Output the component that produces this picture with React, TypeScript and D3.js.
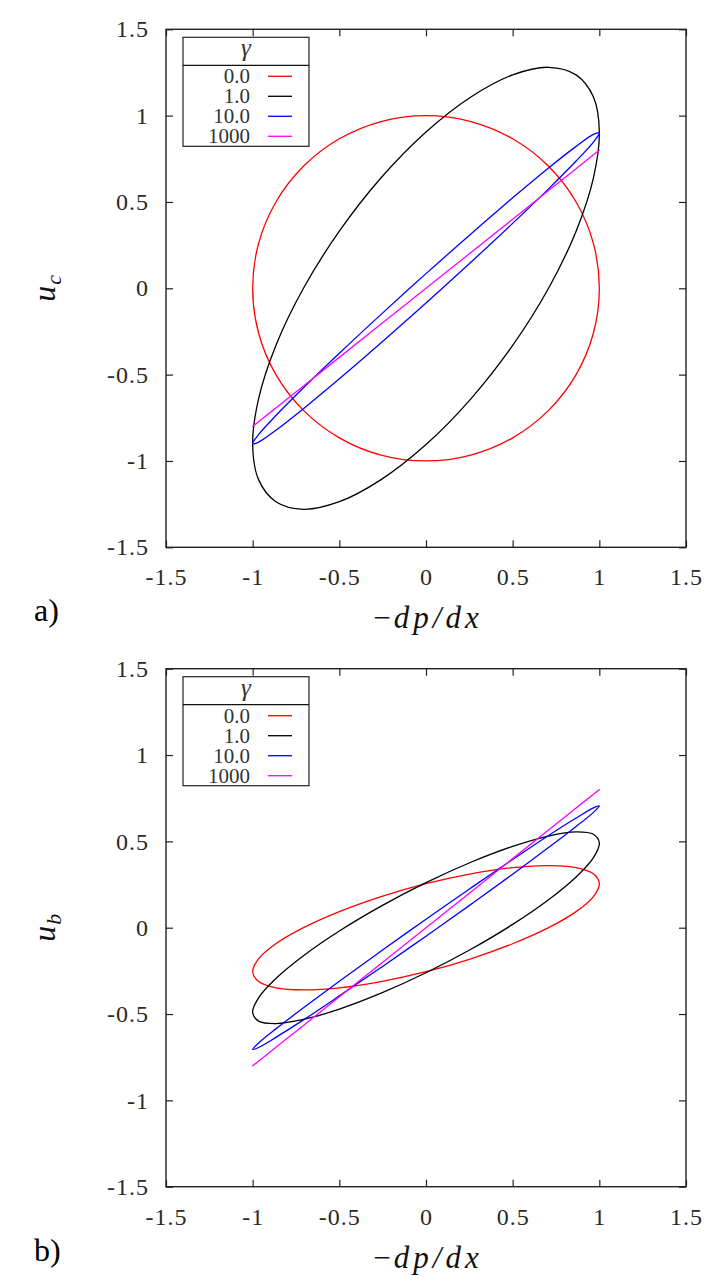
import * as d3 from "d3";
import { useEffect, useRef } from "react";

// forcing -dp/dx sampled round one period (every 15 degrees)
const forcingX = [
  1, 0.966, 0.866, 0.707, 0.5, 0.259, 0, -0.259, -0.5, -0.707, -0.866, -0.966,
  -1, -0.966, -0.866, -0.707, -0.5, -0.259, 0, 0.259, 0.5, 0.707, 0.866, 0.966,
];

// panel a) : u_c for each gamma
const ucGamma0 = [
  0, 0.259, 0.5, 0.707, 0.866, 0.966, 1, 0.966, 0.866, 0.707, 0.5, 0.259,
  0, -0.259, -0.5, -0.707, -0.866, -0.966, -1, -0.966, -0.866, -0.707, -0.5, -0.259,
];
const ucGamma1 = [
  0.905, 1.108, 1.236, 1.28, 1.236, 1.108, 0.905, 0.64, 0.331, 0, -0.331, -0.64,
  -0.905, -1.108, -1.236, -1.28, -1.236, -1.108, -0.905, -0.64, -0.331, 0, 0.331, 0.64,
];
const ucGamma10 = [
  0.9, 0.891, 0.822, 0.697, 0.524, 0.315, 0.085, -0.151, -0.376, -0.576, -0.737, -0.847,
  -0.9, -0.891, -0.822, -0.697, -0.524, -0.315, -0.085, 0.151, 0.376, 0.576, 0.737, 0.847,
];
const ucGamma1000 = [
  0.8, 0.773, 0.693, 0.566, 0.4, 0.207, 0, -0.207, -0.4, -0.566, -0.693, -0.773,
  -0.8, -0.773, -0.693, -0.566, -0.4, -0.207, 0, 0.207, 0.4, 0.566, 0.693, 0.773,
];

// panel b) : u_b for each gamma
const ubGamma0 = [
  0.255, 0.312, 0.348, 0.36, 0.348, 0.312, 0.255, 0.18, 0.093, 0, -0.093, -0.18,
  -0.255, -0.312, -0.348, -0.36, -0.348, -0.312, -0.255, -0.18, -0.093, 0, 0.093, 0.18,
];
const ubGamma1 = [
  0.49, 0.541, 0.555, 0.531, 0.471, 0.379, 0.261, 0.125, -0.019, -0.162, -0.294, -0.406,
  -0.49, -0.541, -0.555, -0.531, -0.471, -0.379, -0.261, -0.125, 0.019, 0.162, 0.294, 0.406,
];
const ubGamma10 = [
  0.705, 0.694, 0.635, 0.534, 0.395, 0.23, 0.049, -0.135, -0.31, -0.464, -0.586, -0.668,
  -0.705, -0.694, -0.635, -0.534, -0.395, -0.23, -0.049, 0.135, 0.31, 0.464, 0.586, 0.668,
];
const ubGamma1000 = [
  0.8, 0.773, 0.693, 0.566, 0.4, 0.207, 0, -0.207, -0.4, -0.566, -0.693, -0.773,
  -0.8, -0.773, -0.693, -0.566, -0.4, -0.207, 0, 0.207, 0.4, 0.566, 0.693, 0.773,
];

const gammaLabels = ["0.0", "1.0", "10.0", "1000"];
const seriesColors = ["#ff0000", "#000000", "#0000ff", "#ff00ff"];
const tickValues = [-1.5, -1, -0.5, 0, 0.5, 1, 1.5];
const tickLabels = ["-1.5", "-1", "-0.5", "0", "0.5", "1", "1.5"];

const W = 719;
const H = 1283;
const FONT = "Liberation Serif";

type Sel = d3.Selection<SVGSVGElement, unknown, null, undefined>;

function drawPanel(svg: Sel, top: number, sub: string, tag: string, series: number[][]) {
  const left = 166;
  const right = 686;
  const bottom = top + 518;

  const x = d3.scaleLinear().domain([-1.5, 1.5]).range([left, right]);
  const y = d3.scaleLinear().domain([-1.5, 1.5]).range([bottom, top]);
  const g = svg.append("g").attr("font-family", FONT);

  // curves
  const line = d3
    .line<[number, number]>()
    .x((d) => x(d[0]))
    .y((d) => y(d[1]))
    .curve(d3.curveCatmullRomClosed.alpha(0.5));

  series.forEach((ys, i) => {
    const pts = forcingX.map((v, j) => [v, ys[j]] as [number, number]);
    g.append("path")
      .attr("d", line(pts))
      .attr("fill", "none")
      .attr("stroke", seriesColors[i])
      .attr("stroke-width", 1.3)
      .attr("stroke-linejoin", "round");
  });

  // axes, gnuplot style: inward ticks mirrored on all sides
  const fmt = (d: d3.NumberValue) => tickLabels[tickValues.indexOf(+d)];

  const styleAxis = (a: d3.Selection<SVGGElement, unknown, null, undefined>) => {
    a.attr("font-family", FONT).attr("font-size", 24);
    a.select(".domain").remove();
    a.selectAll(".tick line").attr("stroke", "#222").attr("stroke-width", 1.2);
    a.selectAll(".tick text")
      .attr("fill", "#2a2a2a")
      .attr("font-family", FONT)
      .attr("font-size", 24)
      .attr("letter-spacing", 1);
  };

  g.append("g")
    .attr("transform", `translate(0,${bottom})`)
    .call(d3.axisBottom(x).tickValues(tickValues).tickFormat(fmt).tickSizeInner(-7).tickSizeOuter(0).tickPadding(21))
    .call(styleAxis);

  g.append("g")
    .attr("transform", `translate(${left},0)`)
    .call(d3.axisLeft(y).tickValues(tickValues).tickFormat(fmt).tickSizeInner(-7).tickSizeOuter(0).tickPadding(17))
    .call(styleAxis);

  g.append("g")
    .attr("transform", `translate(0,${top})`)
    .call(d3.axisTop(x).tickValues(tickValues).tickFormat(() => "").tickSizeInner(-7).tickSizeOuter(0))
    .call(styleAxis);

  g.append("g")
    .attr("transform", `translate(${right},0)`)
    .call(d3.axisRight(y).tickValues(tickValues).tickFormat(() => "").tickSizeInner(-7).tickSizeOuter(0))
    .call(styleAxis);

  // frame
  g.append("rect")
    .attr("x", left)
    .attr("y", top)
    .attr("width", right - left)
    .attr("height", bottom - top)
    .attr("fill", "none")
    .attr("stroke", "#222")
    .attr("stroke-width", 1.4);

  // legend
  const lx0 = 183;
  const lx1 = 309;
  const ly0 = top + 8;
  const legend = g.append("g");
  legend
    .append("rect")
    .attr("x", lx0)
    .attr("y", ly0)
    .attr("width", lx1 - lx0)
    .attr("height", 109)
    .attr("fill", "none")
    .attr("stroke", "#222")
    .attr("stroke-width", 1.2);
  legend
    .append("line")
    .attr("x1", lx0)
    .attr("x2", lx1)
    .attr("y1", ly0 + 28)
    .attr("y2", ly0 + 28)
    .attr("stroke", "#111")
    .attr("stroke-width", 1.2);
  legend
    .append("text")
    .attr("x", 246)
    .attr("y", ly0 + 19)
    .attr("text-anchor", "middle")
    .attr("fill", "#333")
    .attr("font-style", "italic")
    .attr("font-size", 25)
    .text("γ");

  gammaLabels.forEach((lab, i) => {
    const cy = ly0 + 39 + i * 20;
    legend
      .append("text")
      .attr("x", 250)
      .attr("y", cy + 7)
      .attr("text-anchor", "end")
      .attr("fill", "#333")
      .attr("font-size", 21)
      .text(lab);
    legend
      .append("line")
      .attr("x1", 268)
      .attr("x2", 292)
      .attr("y1", cy)
      .attr("y2", cy)
      .attr("stroke", seriesColors[i])
      .attr("stroke-width", 1.3);
  });

  // axis labels
  const xl = g
    .append("text")
    .attr("x", (left + right) / 2)
    .attr("y", bottom + 81)
    .attr("text-anchor", "middle")
    .attr("fill", "#111")
    .attr("font-size", 31);
  xl.append("tspan").text("\u2212");
  ["d", "p", "/", "d", "x"].forEach((ch, i) =>
    xl.append("tspan").attr("dx", i === 0 ? 3 : 4).attr("font-style", "italic").text(ch)
  );

  const yl = g
    .append("text")
    .attr("transform", `translate(55,${y(0)}) rotate(-90)`)
    .attr("text-anchor", "middle")
    .attr("fill", "#111")
    .attr("font-style", "italic")
    .attr("font-size", 32);
  yl.append("tspan").text("u");
  yl.append("tspan").attr("dy", 6).attr("dx", 1).attr("font-size", 22).text(sub);

  g.append("text")
    .attr("x", 34)
    .attr("y", bottom + 74)
    .attr("fill", "#000")
    .attr("font-size", 32)
    .text(tag);
}

export default function App() {
  const ref = useRef<SVGSVGElement | null>(null);

  useEffect(() => {
    const svg = d3.select(ref.current as SVGSVGElement);
    svg.selectAll("*").remove();
    svg.attr("width", W).attr("height", H);

    svg.append("rect").attr("width", W).attr("height", H).attr("fill", "#fff");

    drawPanel(svg, 29.3, "c", "a)", [ucGamma0, ucGamma1, ucGamma10, ucGamma1000]);
    drawPanel(svg, 668.7, "b", "b)", [ubGamma0, ubGamma1, ubGamma10, ubGamma1000]);
  }, []);

  return <svg ref={ref} style={{ position: "absolute", left: 0, top: 0, display: "block" }} />;
}
